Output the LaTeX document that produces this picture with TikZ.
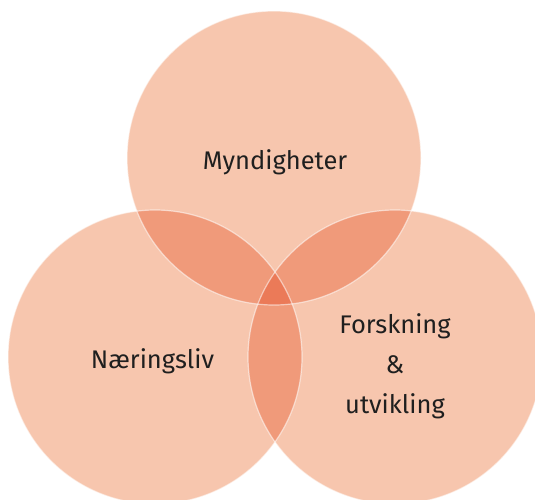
\documentclass[tikz,border=0pt]{standalone}
\usepackage{fontspec}
\setmainfont{Fira Sans}
\definecolor{one}{HTML}{F7C6AE}
\definecolor{two}{HTML}{F09A7A}
\definecolor{three}{HTML}{EB7A58}
\begin{document}
\begin{tikzpicture}[x=1pt,y=-1pt,
  lbl/.style={font=\fontsize{25.5}{40}\selectfont, text=black!88, align=center, inner sep=0pt},
  rim/.style={draw=white, draw opacity=0.55, line width=1.2pt}]
\useasboundingbox (0,0) rectangle (535,499);
\def\R{147}
\coordinate (T) at (274,158);
\coordinate (L) at (155,357);
\coordinate (Rr) at (395,357);
\begin{scope}
\clip (0,0) rectangle (535,499);
\fill[one] (T) circle (\R);
\fill[one] (L) circle (\R);
\fill[one] (Rr) circle (\R);
\begin{scope}\clip (T) circle (\R); \fill[two] (L) circle (\R); \fill[two] (Rr) circle (\R); \end{scope}
\begin{scope}\clip (L) circle (\R); \fill[two] (Rr) circle (\R); \end{scope}
\begin{scope}\clip (T) circle (\R); \clip (L) circle (\R); \fill[three] (Rr) circle (\R); \end{scope}
\draw[rim] (T) circle (\R);
\draw[rim] (L) circle (\R);
\draw[rim] (Rr) circle (\R);
\end{scope}
\node[lbl, anchor=base] (m) at (275,169) {Myndigheter};
\node[lbl, anchor=base] (n) at (152.5,368) {Næringsliv};
\node[lbl] (f) at (395,366) {Forskning\\\&\\utvikling};
\end{tikzpicture}
\end{document}
